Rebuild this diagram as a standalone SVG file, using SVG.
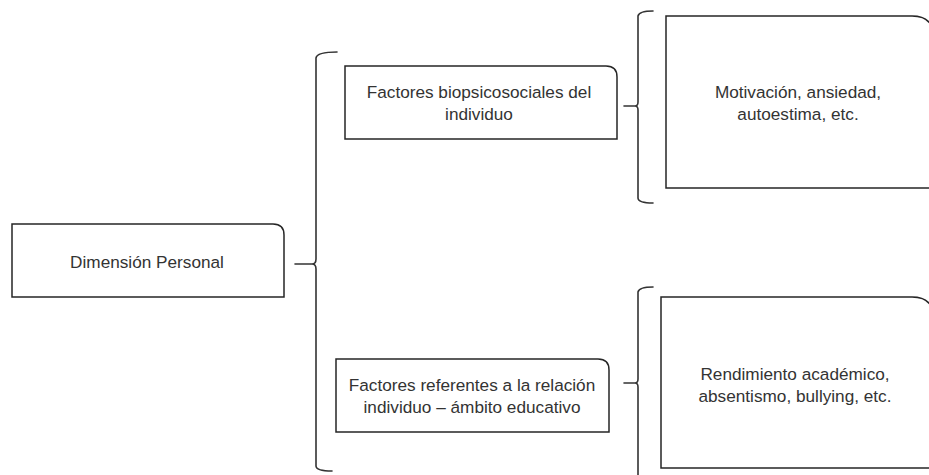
<svg xmlns="http://www.w3.org/2000/svg" width="929" height="475" viewBox="0 0 929 475">
<style>
.box{fill:#fff;stroke:#262626;stroke-width:1.5}
.br{fill:none;stroke:#333;stroke-width:1.6;stroke-linejoin:round;stroke-linecap:round}
text{font-family:"Liberation Sans",Arial,sans-serif;font-size:17.2px;fill:#333;text-anchor:middle}
</style>
<rect width="929" height="475" fill="#fff"/>
<g id="connectors">
<path class="br" d="M337,52 Q317,52 316,58 L316,259 Q316,264 312,264 L295,264 M312,264 Q316,264 316,269 L316,466 Q316,471 332,471"/>
<path class="br" d="M653,11 Q639,11 638,16 L638,102 Q638,106 635,106 L624,106 M635,106 Q638,106 638,110 L638,198 Q638,203 653,203"/>
<path class="br" d="M653,287 Q639,287 638,292 L638,379 Q638,383 635,383 L624,383 M635,383 Q638,383 638,387 L638,480"/>
</g>
<g id="n1">
<path class="box" d="M12,224 H273 Q284,224 284,235 V297 H12 Z"/>
<text x="147" y="268">Dimensión Personal</text>
</g>
<g id="n2">
<path class="box" d="M345,66 H606 Q617,66 617,77 V139 H345 Z"/>
<text x="479" y="98">Factores biopsicosociales del</text>
<text x="479" y="120">individuo</text>
</g>
<g id="n3">
<path class="box" d="M666,16 H912 Q934,16 934,38 V188 H666 Z"/>
<text x="798" y="98">Motivación, ansiedad,</text>
<text x="798" y="120">autoestima, etc.</text>
</g>
<g id="n4">
<path class="box" d="M336,359 H598 Q609,359 609,370 V432 H336 Z"/>
<text x="472" y="391">Factores referentes a la relación</text>
<text x="472" y="413">individuo – ámbito educativo</text>
</g>
<g id="n5">
<path class="box" d="M661,297 H912 Q934,297 934,319 V468 H661 Z"/>
<text x="795" y="380">Rendimiento académico,</text>
<text x="795" y="402">absentismo, bullying, etc.</text>
</g>
</svg>
